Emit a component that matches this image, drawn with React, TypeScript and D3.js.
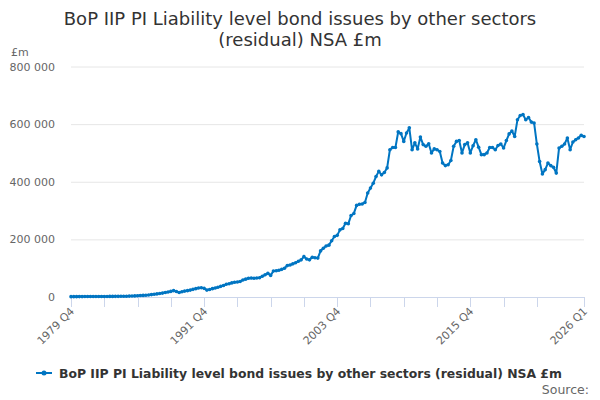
import React from 'react';
import * as d3 from 'd3';

// quarterly values, £m, 1979 Q4 .. 2026 Q1
const values1979to1984 = [1200, 1300, 1300, 1400, 1400, 1500, 1500, 1600, 1600, 1700, 1700, 1800, 1900, 1900, 2000, 2100, 2200, 2300, 2400, 2600];
const values1984to1991 = [2800, 3100, 3500, 3900, 4400, 5000, 5600, 6300, 7200, 8300, 9500, 10800, 12000, 13600, 15400, 17500, 19500, 22000, 19000, 15500, 18000, 20500, 22000, 24000, 26500, 29000];
const values1991to1999 = [31000, 32000, 30000, 24000, 26000, 29000, 31000, 34000, 37000, 40000, 44000, 46000, 49000, 51000, 52000, 54000, 59000, 62000, 65000, 66000, 65000, 66000, 67000, 72000, 77000, 82000, 75000, 90000, 91000, 93000, 96000, 100000, 109000];
const values1999to2007 = [111000, 115000, 119000, 124000, 129000, 140000, 132000, 129000, 138000, 136000, 135000, 160000, 169000, 177000, 180000, 195000, 210000, 214000, 233000, 238000, 256000, 254000, 283000, 290000, 318000, 322000, 323000, 328000, 361000, 378000, 395000, 418000];
const values2007to2016 = [436000, 424000, 432000, 448000, 511000, 519000, 519000, 573000, 567000, 540000, 569000, 587000, 511000, 535000, 514000, 555000, 529000, 523000, 532000, 500000, 514000, 511000, 505000, 465000, 456000, 459000, 474000, 523000, 540000, 543000, 500000, 529000, 535000, 500000, 525000, 546000];
const values2016to2026 = [520000, 494000, 494000, 500000, 519000, 519000, 511000, 526000, 531000, 517000, 543000, 566000, 576000, 557000, 615000, 630000, 633000, 615000, 623000, 607000, 604000, 531000, 470000, 427000, 442000, 465000, 456000, 450000, 430000, 517000, 523000, 531000, 552000, 511000, 538000, 546000, 552000, 561000, 557000];

const values = [
  ...values1979to1984, ...values1984to1991, ...values1991to1999,
  ...values1999to2007, ...values2007to2016, ...values2016to2026,
];

const startYear = 1979;
const startQuarter = 4;
const categories = values.map((_, i) => {
  const q = startQuarter - 1 + i;
  return `${startYear + Math.floor(q / 4)} Q${(q % 4) + 1}`;
});

const yTicks = [0, 200000, 400000, 600000, 800000];
const labelIndexes = [0, 48, 96, 144, 185];
const tickIndexes = [0, 12, 24, 36, 48, 60, 72, 84, 96, 108, 120, 132, 144, 156, 168, 185];

const seriesName = 'BoP IIP PI Liability level bond issues by other sectors (residual) NSA £m';
const titleLines = ['BoP IIP PI Liability level bond issues by other sectors', '(residual) NSA £m'];

const blue = '#0075c2';
const font = 'DejaVu Sans, sans-serif';

const App: React.FC = () => {
  const width = 600;
  const height = 400;
  const plot = { left: 71, right: 584, top: 66.5, bottom: 297 };

  const x = d3.scaleLinear().domain([0, values.length - 1]).range([plot.left, plot.right]);
  const y = d3.scaleLinear().domain([0, 800000]).range([plot.bottom, plot.top]);

  const line = d3.line<number>()
    .x((_, i) => x(i))
    .y(d => y(d));

  const fmt = (d: number) => d3.format(',')(d).replace(/,/g, ' ');

  return (
    <svg width={width} height={height} style={{ position: 'absolute', left: 0, top: 0, fontFamily: font }}>
      <rect width={width} height={height} fill="#fff" />
      {titleLines.map((t, i) => (
        <text key={t} x={300} y={25 + i * 20.5} textAnchor="middle" fontSize={18} fill="#333">{t}</text>
      ))}
      <text x={11} y={56} fontSize={11} fill="#666">£m</text>

      {yTicks.map(t => (
        <g key={t}>
          {t > 0 && <line x1={plot.left} x2={plot.right} y1={y(t) + 0.5} y2={y(t) + 0.5} stroke="#e6e6e6" />}
          <text x={55} y={y(t) + 4} textAnchor="end" fontSize={11} fill="#666">{fmt(t)}</text>
        </g>
      ))}

      <line x1={plot.left} x2={plot.right} y1={plot.bottom + 0.5} y2={plot.bottom + 0.5} stroke="#ccd6eb" />
      {tickIndexes.map(i => (
        <line key={i} x1={Math.round(x(i)) + 0.5} x2={Math.round(x(i)) + 0.5} y1={plot.bottom} y2={plot.bottom + 10} stroke="#ccd6eb" />
      ))}
      {labelIndexes.map(i => (
        <text key={i} transform={`translate(${x(i) + 4},${plot.bottom + 15}) rotate(-45)`} textAnchor="end" fontSize={11} fill="#666">{categories[i]}</text>
      ))}

      <path d={line(values) ?? ''} fill="none" stroke={blue} strokeWidth={2} strokeLinejoin="round" />
      {values.map((v, i) => (
        <circle key={i} cx={x(i)} cy={y(v)} r={1.8} fill={blue} />
      ))}

      <g transform="translate(0,373)">
        <line x1={36} x2={52} y1={0} y2={0} stroke={blue} strokeWidth={2} />
        <circle cx={44} cy={0} r={2.5} fill={blue} />
        <text x={59} y={4.5} fontSize={12.4} fontWeight="bold" fill="#333">{seriesName}</text>
      </g>
      <text x={589} y={394} textAnchor="end" fontSize={12.5} fill="#666">Source:</text>
    </svg>
  );
};

export default App;
